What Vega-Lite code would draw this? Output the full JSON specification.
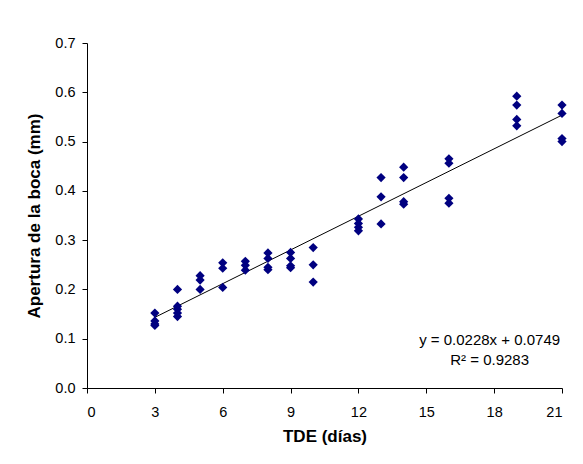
{
  "$schema": "https://vega.github.io/schema/vega-lite/v6.json",
  "width": 475,
  "height": 345,
  "autosize": {"type": "none"},
  "padding": {"left": 87, "top": 43, "right": 21, "bottom": 76},
  "background": "white",
  "config": {
    "view": {"stroke": null},
    "font": "Liberation Sans",
    "axis": {
      "domainColor": "black",
      "tickColor": "black",
      "labelColor": "black",
      "titleColor": "black",
      "labelFont": "Liberation Sans",
      "titleFont": "Liberation Sans",
      "labelFontSize": 14.5,
      "titleFontSize": 17,
      "titleFontWeight": "bold",
      "grid": false,
      "tickSize": 5
    }
  },
  "datasets": {
    "pts": [
      {"TDE": 3, "AB": 0.152}, {"TDE": 3, "AB": 0.136}, {"TDE": 3, "AB": 0.130}, {"TDE": 3, "AB": 0.127},
      {"TDE": 4, "AB": 0.200}, {"TDE": 4, "AB": 0.166}, {"TDE": 4, "AB": 0.160}, {"TDE": 4, "AB": 0.152}, {"TDE": 4, "AB": 0.145},
      {"TDE": 5, "AB": 0.228}, {"TDE": 5, "AB": 0.219}, {"TDE": 5, "AB": 0.200},
      {"TDE": 6, "AB": 0.254}, {"TDE": 6, "AB": 0.243}, {"TDE": 6, "AB": 0.204},
      {"TDE": 7, "AB": 0.257}, {"TDE": 7, "AB": 0.249}, {"TDE": 7, "AB": 0.239},
      {"TDE": 8, "AB": 0.274}, {"TDE": 8, "AB": 0.263}, {"TDE": 8, "AB": 0.245}, {"TDE": 8, "AB": 0.240},
      {"TDE": 9, "AB": 0.275}, {"TDE": 9, "AB": 0.263}, {"TDE": 9, "AB": 0.248}, {"TDE": 9, "AB": 0.244},
      {"TDE": 10, "AB": 0.285}, {"TDE": 10, "AB": 0.250}, {"TDE": 10, "AB": 0.215},
      {"TDE": 12, "AB": 0.343}, {"TDE": 12, "AB": 0.334}, {"TDE": 12, "AB": 0.326}, {"TDE": 12, "AB": 0.319},
      {"TDE": 13, "AB": 0.427}, {"TDE": 13, "AB": 0.388}, {"TDE": 13, "AB": 0.333},
      {"TDE": 14, "AB": 0.448}, {"TDE": 14, "AB": 0.427}, {"TDE": 14, "AB": 0.378}, {"TDE": 14, "AB": 0.373},
      {"TDE": 16, "AB": 0.465}, {"TDE": 16, "AB": 0.456}, {"TDE": 16, "AB": 0.385}, {"TDE": 16, "AB": 0.375},
      {"TDE": 19, "AB": 0.592}, {"TDE": 19, "AB": 0.574}, {"TDE": 19, "AB": 0.545}, {"TDE": 19, "AB": 0.532},
      {"TDE": 21, "AB": 0.574}, {"TDE": 21, "AB": 0.557}, {"TDE": 21, "AB": 0.506}, {"TDE": 21, "AB": 0.500}
    ],
    "fit": [
      {"TDE": 3, "AB": 0.1433},
      {"TDE": 21, "AB": 0.5537}
    ],
    "eq": [
      {"TDE": 17.8, "AB": 0.098, "label": "y = 0.0228x + 0.0749"},
      {"TDE": 17.8, "AB": 0.056, "label": "R² = 0.9283"}
    ]
  },
  "encoding": {
    "x": {
      "field": "TDE", "type": "quantitative",
      "scale": {"domain": [0, 21], "nice": false, "zero": false},
      "axis": {"values": [0, 3, 6, 9, 12, 15, 18, 21], "title": "TDE (días)", "labelPadding": 12, "titlePadding": 10}
    },
    "y": {
      "field": "AB", "type": "quantitative",
      "scale": {"domain": [0, 0.7], "nice": false},
      "axis": {"values": [0, 0.1, 0.2, 0.3, 0.4, 0.5, 0.6, 0.7], "format": ".1f", "title": "Apertura de la boca (mm)", "labelPadding": 7, "titlePadding": 11}
    }
  },
  "layer": [
    {
      "data": {"name": "fit"},
      "mark": {"type": "line", "color": "black", "strokeWidth": 1}
    },
    {
      "data": {"name": "pts"},
      "mark": {"type": "point", "shape": "diamond", "filled": true, "color": "#000080", "size": 85, "opacity": 1}
    },
    {
      "data": {"name": "eq"},
      "mark": {"type": "text", "align": "center", "baseline": "middle", "fontSize": 15, "font": "Liberation Sans", "color": "black"},
      "encoding": {"text": {"field": "label", "type": "nominal"}}
    }
  ]
}
